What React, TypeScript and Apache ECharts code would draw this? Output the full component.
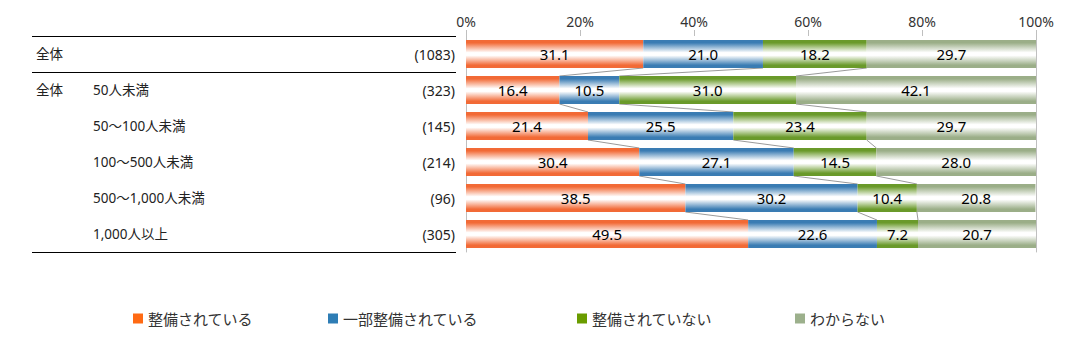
import React, { useEffect, useRef } from "react";
import * as echarts from "echarts";

const groups = ["全体", "全体", "", "", "", ""];
const categories = ["", "50人未満", "50～100人未満", "100～500人未満", "500～1,000人未満", "1,000人以上"];
const counts = ["(1083)", "(323)", "(145)", "(214)", "(96)", "(305)"];
const seriesNames = ["整備されている", "一部整備されている", "整備されていない", "わからない"];
const s1 = [31.1, 16.4, 21.4, 30.4, 38.5, 49.5];
const s2 = [21.0, 10.5, 25.5, 27.1, 30.2, 22.6];
const s3 = [18.2, 31.0, 23.4, 14.5, 10.4, 7.2];
const s4 = [29.7, 42.1, 29.7, 28.0, 20.8, 20.7];

const barColors = ["#F26A36", "#3A7CB3", "#6A9A2A", "#9BAE88"];
const legendColors = ["#FF6A13", "#2E7DB5", "#6A9C00", "#9CB08C"];
const legendLefts = [128, 323, 572, 790];

const FONT = "'Noto Sans', 'Noto Sans CJK JP', sans-serif";

function grad(c: string) {
  return new echarts.graphic.LinearGradient(0, 0, 0, 1, [
    { offset: 0, color: c },
    { offset: 0.1, color: c },
    { offset: 0.45, color: "#ffffff" },
    { offset: 0.55, color: "#ffffff" },
    { offset: 0.9, color: c },
    { offset: 1, color: c },
  ]);
}

export default function App() {
  const ref = useRef<HTMLDivElement>(null);
  useEffect(() => {
    if (!ref.current) return;
    const chart = echarts.init(ref.current, null, { renderer: "svg" });
    const all = [s1, s2, s3, s4];
    const cum = s1.map((_, i) => [s1[i], s1[i] + s2[i], s1[i] + s2[i] + s3[i]]);
    const lineData = [];
    for (let i = 0; i < cum.length - 1; i++) {
      lineData.push([i, ...cum[i], ...cum[i + 1]]);
    }
    const labelsY = categories.map((_, i) => i);
    const barSeries = all.map((d, k) => ({
      type: "bar",
      name: seriesNames[k],
      stack: "total",
      barWidth: 28,
      data: d,
      itemStyle: { color: grad(barColors[k]) },
      label: {
        show: true,
        position: "inside",
        color: "#000",
        fontSize: 15,
        fontFamily: FONT,
        formatter: (p: any) => p.value.toFixed(1),
      },
      emphasis: { disabled: true },
    }));
    const legends = seriesNames.map((n, k) => ({
      left: legendLefts[k],
      top: 306,
      itemWidth: 10,
      itemHeight: 10,
      itemGap: 0,
      icon: "rect",
      selectedMode: false,
      textStyle: { fontSize: 15, color: "#333", fontFamily: FONT },
      data: [{ name: n, itemStyle: { color: legendColors[k] } }],
    }));
    const option: any = {
      animation: false,
      textStyle: { fontFamily: FONT },
      grid: { left: 466, right: 30, top: 36, height: 216, containLabel: false },
      xAxis: {
        type: "value",
        position: "top",
        min: 0,
        max: 100,
        interval: 20,
        axisLine: { show: false },
        axisTick: { show: true, length: 6, lineStyle: { color: "#bfbfbf" } },
        splitLine: { show: false },
        axisLabel: { formatter: "{value}%", color: "#333", fontSize: 14, margin: 8, fontFamily: FONT },
      },
      yAxis: [
        {
          type: "category",
          inverse: true,
          data: labelsY,
          axisLine: { show: true, lineStyle: { color: "#bfbfbf" } },
          axisTick: { show: false },
          axisLabel: {
            show: true,
            align: "left",
            margin: 430,
            formatter: (v: any) => {
              const i = Number(v);
              return `{g|${groups[i] || "　"}}{n|${categories[i] || "　"}}{c|${counts[i]}}`;
            },
            rich: {
              g: { width: 57, fontSize: 13.5, color: "#222", fontFamily: FONT },
              n: { width: 300, fontSize: 13.5, color: "#222", fontFamily: FONT },
              c: { width: 62, align: "right", fontSize: 14, color: "#222", fontFamily: FONT },
            },
          },
        },
        {
          type: "category",
          inverse: true,
          position: "right",
          data: labelsY,
          axisLine: { show: true, lineStyle: { color: "#bfbfbf" } },
          axisTick: { show: false },
          axisLabel: { show: false },
        },
      ],
      legend: legends,
      series: [
        ...barSeries,
        {
          type: "custom",
          silent: true,
          data: lineData,
          z: 1,
          renderItem: (params: any, api: any) => {
            const i = api.value(0);
            const half = 14;
            const children = [];
            for (let k = 0; k < 3; k++) {
              const a = api.coord([api.value(1 + k), i]);
              const b = api.coord([api.value(4 + k), i + 1]);
              children.push({
                type: "line",
                shape: { x1: a[0], y1: a[1] + half, x2: b[0], y2: b[1] - half },
                style: { stroke: "#808080", lineWidth: 0.8 },
              });
            }
            return { type: "group", children };
          },
        },
      ],
      graphic: [
        { type: "line", shape: { x1: 32, y1: 36.5, x2: 456, y2: 36.5 }, style: { stroke: "#000", lineWidth: 1 } },
        { type: "line", shape: { x1: 32, y1: 72.5, x2: 456, y2: 72.5 }, style: { stroke: "#000", lineWidth: 1 } },
        { type: "line", shape: { x1: 32, y1: 252.5, x2: 456, y2: 252.5 }, style: { stroke: "#000", lineWidth: 1 } },
      ],
    };
    chart.setOption(option);
    return () => chart.dispose();
  }, []);
  return (
    <div
      ref={ref}
      style={{ position: "absolute", left: 0, top: 0, width: 1066, height: 364, background: "#fff" }}
    />
  );
}
